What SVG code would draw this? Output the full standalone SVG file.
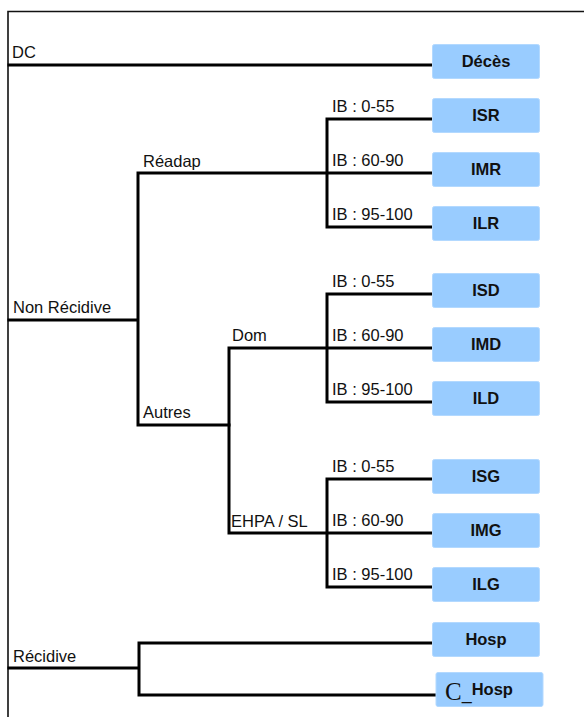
<svg xmlns="http://www.w3.org/2000/svg" width="584" height="717" viewBox="0 0 584 717">
<style>
.frame{fill:none;stroke:#111;stroke-width:1.6}
.c{fill:none;stroke:#000;stroke-width:3;stroke-linecap:square}
.box{fill:#99ccff;stroke:#b3d9ff;stroke-width:1}
.bt{font-family:"Liberation Sans",Arial,sans-serif;font-size:16.5px;font-weight:bold;fill:#111;text-anchor:middle}
.lb{font-family:"Liberation Sans",Arial,sans-serif;font-size:16.5px;fill:#111}
</style>
<rect width="584" height="717" fill="#fff"/>
<path class="frame" d="M8,717 V11.5 H584"/>
<g id="connectors">
<path class="c" d="M9,65 H432"/>
<path class="c" d="M9,320 H138 M138,173 V425 M138,173 H432 M138,425 H229"/>
<path class="c" d="M327,119 V227 M327,119 H432 M327,227 H432"/>
<path class="c" d="M229,348 V533 M229,348 H432 M229,533 H432"/>
<path class="c" d="M327,294 V402 M327,294 H432 M327,402 H432"/>
<path class="c" d="M327,479 V587 M327,479 H432 M327,587 H432"/>
<path class="c" d="M9,668 H139 M139,643 V695 M139,643 H432 M139,695 H436"/>
</g>
<g id="labels">
<text class="lb" x="12" y="58">DC</text>
<text class="lb" x="13" y="313">Non Récidive</text>
<text class="lb" x="143" y="167">Réadap</text>
<text class="lb" x="143" y="418">Autres</text>
<text class="lb" x="232" y="341">Dom</text>
<text class="lb" x="231" y="527">EHPA / SL</text>
<text class="lb" x="13" y="662">Récidive</text>
<text class="lb" x="332" y="112">IB : 0-55</text>
<text class="lb" x="332" y="166">IB : 60-90</text>
<text class="lb" x="332" y="220">IB : 95-100</text>
<text class="lb" x="332" y="287">IB : 0-55</text>
<text class="lb" x="332" y="341">IB : 60-90</text>
<text class="lb" x="332" y="395">IB : 95-100</text>
<text class="lb" x="332" y="472">IB : 0-55</text>
<text class="lb" x="332" y="526">IB : 60-90</text>
<text class="lb" x="332" y="580">IB : 95-100</text>
</g>
<g id="deces"><rect class="box" x="432.5" y="44.5" width="107" height="34" rx="2"/><text class="bt" x="486" y="67">Décès</text></g>
<g id="isr"><rect class="box" x="432.5" y="98.5" width="107" height="34" rx="2"/><text class="bt" x="486" y="121">ISR</text></g>
<g id="imr"><rect class="box" x="432.5" y="152.5" width="107" height="34" rx="2"/><text class="bt" x="486" y="175">IMR</text></g>
<g id="ilr"><rect class="box" x="432.5" y="206.5" width="107" height="34" rx="2"/><text class="bt" x="486" y="229">ILR</text></g>
<g id="isd"><rect class="box" x="432.5" y="273.5" width="107" height="34" rx="2"/><text class="bt" x="486" y="296">ISD</text></g>
<g id="imd"><rect class="box" x="432.5" y="327.5" width="107" height="34" rx="2"/><text class="bt" x="486" y="350">IMD</text></g>
<g id="ild"><rect class="box" x="432.5" y="381.5" width="107" height="34" rx="2"/><text class="bt" x="486" y="404">ILD</text></g>
<g id="isg"><rect class="box" x="432.5" y="459.5" width="107" height="34" rx="2"/><text class="bt" x="486" y="482">ISG</text></g>
<g id="img"><rect class="box" x="432.5" y="513.5" width="107" height="34" rx="2"/><text class="bt" x="486" y="536">IMG</text></g>
<g id="ilg"><rect class="box" x="432.5" y="567.5" width="107" height="34" rx="2"/><text class="bt" x="486" y="590">ILG</text></g>
<g id="hosp"><rect class="box" x="432.5" y="622.5" width="107" height="34" rx="2"/><text class="bt" x="486" y="645">Hosp</text></g>
<g id="chosp"><rect class="box" x="436" y="672.5" width="107" height="34" rx="2"/><text class="bt" x="445" y="694.5" style="text-anchor:start"><tspan style="font-family:'Liberation Serif','Times New Roman',serif;font-weight:normal;font-size:25px" dy="5">C</tspan><tspan style="font-family:'Liberation Serif','Times New Roman',serif;font-weight:normal;font-size:20px">_</tspan><tspan dy="-5">Hosp</tspan></text></g>
</svg>
